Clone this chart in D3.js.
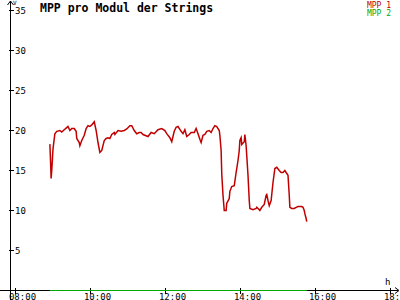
<!DOCTYPE html>
<html>
<head>
<meta charset="utf-8">
<script src="https://cdn.jsdelivr.net/npm/d3@7"></script>
<style>
    body { margin: 0; background: #fff; }
    text { font-family: "DejaVu Sans Mono", monospace; }
</style>
</head>
<body>
<div id="chart"></div>
<script>
// MPP 1 (red) readings, time of day and value
var times = ["08:55","08:56","08:57","08:58","09:00","09:03","09:06","09:11","09:14","09:18",
    "09:21","09:24","09:27","09:30","09:34","09:37","09:38","09:42","09:43","09:46",
    "09:50","09:53","09:56","09:59","10:02","10:06","10:09","10:12","10:15","10:18",
    "10:22","10:25","10:28","10:31","10:34","10:38","10:39","10:44","10:49","10:54",
    "10:58","11:03","11:06","11:10","11:14","11:18","11:21","11:24","11:32","11:37",
    "11:42","11:48","11:54","11:59","12:02","12:07","12:10","12:14","12:17","12:20",
    "12:25","12:28","12:31","12:34","12:38","12:41","12:46","12:49","12:52","12:55",
    "12:57","13:00","13:03","13:06","13:10","13:13","13:16","13:19","13:22","13:26",
    "13:27","13:29","13:30","13:32","13:34","13:37","13:38","13:42","13:43","13:46",
    "13:50","13:53","13:56","13:58","13:59","14:01","14:02","14:06","14:07","14:09",
    "14:12","14:14","14:15","14:20","14:25","14:26","14:30","14:31","14:34","14:38",
    "14:41","14:42","14:44","14:46","14:49","14:50","14:52","14:55","14:58","15:02",
    "15:05","15:08","15:11","15:13","15:16","15:18","15:19","15:22","15:26","15:29",
    "15:32","15:35","15:38","15:40","15:42","15:43","15:45","15:46"];

var mpp1 = [18.3,16.3,14.0,15.0,17.7,19.6,19.9,20.0,19.8,20.1,
    20.3,20.5,20.0,20.25,20.25,19.9,19.0,18.5,18.1,18.75,
    19.4,20.25,20.6,20.5,20.7,21.1,20.0,18.5,17.25,17.5,
    18.75,19.0,19.1,19.0,19.5,19.75,19.5,20.0,19.9,20.0,
    20.2,20.6,20.6,20.0,19.6,19.75,19.75,19.5,19.25,19.75,
    19.6,20.1,20.25,20.0,19.6,19.1,18.6,19.9,20.4,20.5,
    19.9,19.6,20.1,19.25,19.5,19.75,19.75,20.25,19.6,18.9,
    18.5,19.4,19.5,19.9,20.0,19.75,20.25,20.6,20.5,20.0,
    19.4,17.5,14.6,11.9,10.0,10.0,10.9,11.5,12.4,13.0,
    13.1,14.75,16.25,17.5,18.75,19.1,18.25,18.6,19.5,18.1,
    14.4,11.25,10.25,10.1,10.25,10.4,10.1,10.0,10.4,10.75,
    11.9,12.0,11.25,10.6,11.25,12.0,13.5,15.25,15.4,15.0,
    14.75,14.75,15.0,14.75,14.4,11.9,10.4,10.25,10.25,10.4,
    10.5,10.5,10.5,10.4,10.0,9.6,9.0,8.6];

// MPP 2 (green) stays at zero over the whole day
var times2 = ["08:55", "15:46"];
var mpp2 = [0, 0];

var xTicks = ["08:00", "10:00", "12:00", "14:00", "16:00", "18:00"];
var yTicks = [5, 10, 15, 20, 25, 30, 35];
var legendLabels = ["MPP 1", "MPP 2"];

var parseTime = d3.timeParse("%H:%M");

var Chart = function (_parentElement) {
    this.parentElement = _parentElement;
    this.initVis();
};

Chart.prototype.initVis = function () {
    var vis = this;

    vis.width = 400;
    vis.height = 300;
    vis.colors = ["#c00000", "#00aa00"];

    vis.svg = d3.select(vis.parentElement).append("svg")
        .attr("width", vis.width)
        .attr("height", vis.height);

    vis.x = d3.scaleTime()
        .domain([parseTime("08:00"), parseTime("18:00")])
        .range([15.5, 390.5]);

    vis.y = d3.scaleLinear()
        .domain([0, 35])
        .range([290.5, 10.5]);

    vis.axisX = 10.5;   // where the y axis sits
    vis.axisY = vis.y(0);

    // axis lines, both run a little past the origin
    vis.svg.append("line")
        .attr("x1", 0).attr("x2", 398)
        .attr("y1", vis.axisY).attr("y2", vis.axisY)
        .attr("stroke", "#000").attr("shape-rendering", "crispEdges");
    vis.svg.append("line")
        .attr("x1", vis.axisX).attr("x2", vis.axisX)
        .attr("y1", 1).attr("y2", 300)
        .attr("stroke", "#000").attr("shape-rendering", "crispEdges");

    // arrow heads
    vis.svg.append("path")
        .attr("d", "M" + (vis.axisX - 3) + ",5L" + vis.axisX + ",1L" + (vis.axisX + 3) + ",5")
        .attr("fill", "none").attr("stroke", "#000");
    vis.svg.append("path")
        .attr("d", "M395," + (vis.axisY - 3) + "L399," + vis.axisY + "L395," + (vis.axisY + 3))
        .attr("fill", "none").attr("stroke", "#000");

    vis.svg.append("text")
        .attr("x", 13).attr("y", 5)
        .attr("font-size", "6px")
        .text("V");
    vis.svg.append("text")
        .attr("x", 385).attr("y", 285)
        .attr("font-size", "9px")
        .text("h");

    // y ticks
    var yt = vis.svg.append("g");
    yt.selectAll("line").data(yTicks).enter().append("line")
        .attr("x1", vis.axisX - 2).attr("x2", vis.axisX + 3)
        .attr("y1", function (d) { return vis.y(d); })
        .attr("y2", function (d) { return vis.y(d); })
        .attr("stroke", "#000").attr("shape-rendering", "crispEdges");
    yt.selectAll("text").data(yTicks).enter().append("text")
        .attr("x", 15)
        .attr("y", function (d) { return vis.y(d) + 3.5; })
        .attr("font-size", "9px")
        .text(function (d) { return d; });

    // x ticks
    var xt = vis.svg.append("g");
    xt.selectAll("line").data(xTicks).enter().append("line")
        .attr("x1", function (d) { return vis.x(parseTime(d)); })
        .attr("x2", function (d) { return vis.x(parseTime(d)); })
        .attr("y1", vis.axisY - 3).attr("y2", vis.axisY + 3)
        .attr("stroke", "#000").attr("shape-rendering", "crispEdges");
    xt.selectAll("text").data(xTicks).enter().append("text")
        .attr("x", function (d) { return vis.x(parseTime(d)) + 7; })
        .attr("y", 299.5)
        .attr("text-anchor", "middle")
        .attr("font-size", "9px")
        .text(function (d) { return d; });

    // title
    vis.svg.append("text")
        .attr("x", 40).attr("y", 12)
        .attr("font-size", "11.5px")
        .attr("font-weight", "bold")
        .text("MPP pro Modul der Strings");

    // legend
    vis.svg.selectAll(".legend").data(legendLabels).enter().append("text")
        .attr("class", "legend")
        .attr("x", 391)
        .attr("y", function (d, i) { return 7.5 + i * 8; })
        .attr("text-anchor", "end")
        .attr("font-size", "8px")
        .attr("fill", function (d, i) { return vis.colors[i]; })
        .text(function (d) { return d; });

    vis.line = d3.line()
        .x(function (d) { return vis.x(d.t); })
        .y(function (d) { return vis.y(d.v); });
};

Chart.prototype.updateVis = function () {
    var vis = this;

    var s1 = times.map(function (t, i) { return { t: parseTime(t), v: mpp1[i] }; });
    var s2 = times2.map(function (t, i) { return { t: parseTime(t), v: mpp2[i] }; });

    vis.svg.append("path")
        .datum(s2)
        .attr("d", vis.line)
        .attr("fill", "none")
        .attr("stroke", vis.colors[1])
        .attr("stroke-width", 1.2);

    vis.svg.append("path")
        .datum(s1)
        .attr("d", vis.line)
        .attr("fill", "none")
        .attr("stroke", vis.colors[0])
        .attr("stroke-width", 1.5);
};

var chart = new Chart("#chart");
chart.updateVis();
</script>
</body>
</html>
